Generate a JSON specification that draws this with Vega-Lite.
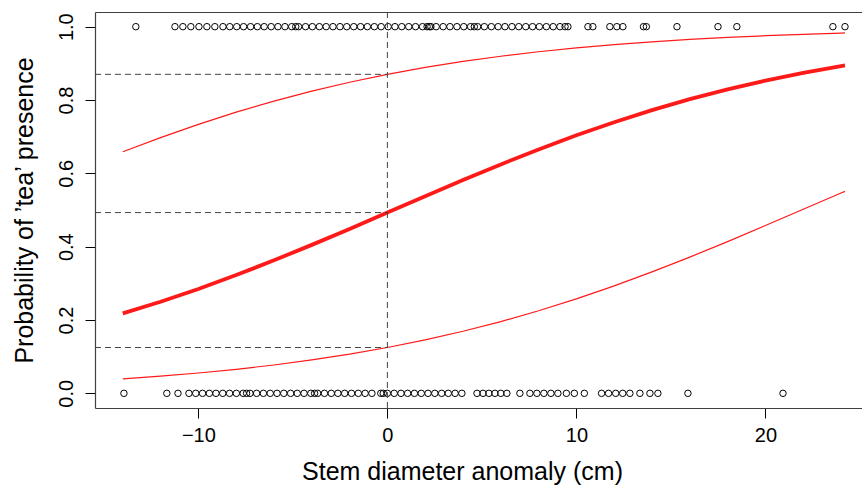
{
  "$schema": "https://vega.github.io/schema/vega-lite/v6.json",
  "width": 767,
  "height": 396,
  "autosize": {"type": "none"},
  "padding": {"left": 95, "top": 12, "right": 0, "bottom": 78},
  "background": "white",
  "config": {
    "view": {"stroke": null},
    "font": "Liberation Sans",
    "axis": {
      "grid": false,
      "domainColor": "#404040",
      "domainWidth": 1.2,
      "tickColor": "#000000",
      "tickWidth": 1,
      "tickSize": 10,
      "labelColor": "#000000",
      "titleColor": "#000000",
      "labelFont": "Liberation Sans",
      "titleFont": "Liberation Sans",
      "labelFontSize": 20,
      "titleFontSize": 25,
      "titleFontWeight": "normal",
      "labelFlush": false
    }
  },
  "datasets": {
    "pts": [
      {"x": -13.31, "y": 1}, {"x": -11.24, "y": 1}, {"x": -10.82, "y": 1}, {"x": -10.40, "y": 1}, {"x": -9.97, "y": 1}, {"x": -9.55, "y": 1}, {"x": -9.13, "y": 1},
      {"x": -8.70, "y": 1}, {"x": -8.34, "y": 1}, {"x": -7.97, "y": 1}, {"x": -7.61, "y": 1}, {"x": -7.24, "y": 1}, {"x": -6.88, "y": 1}, {"x": -6.52, "y": 1}, {"x": -6.15, "y": 1}, {"x": -5.79, "y": 1}, {"x": -5.42, "y": 1},
      {"x": -5.06, "y": 1}, {"x": -4.85, "y": 1}, {"x": -4.70, "y": 1}, {"x": -4.33, "y": 1}, {"x": -3.97, "y": 1}, {"x": -3.60, "y": 1}, {"x": -3.24, "y": 1}, {"x": -2.88, "y": 1}, {"x": -2.51, "y": 1}, {"x": -2.15, "y": 1}, {"x": -1.78, "y": 1},
      {"x": -1.42, "y": 1}, {"x": -1.06, "y": 1}, {"x": -0.69, "y": 1}, {"x": -0.33, "y": 1}, {"x": 0.04, "y": 1}, {"x": 0.40, "y": 1}, {"x": 0.76, "y": 1}, {"x": 1.13, "y": 1}, {"x": 1.49, "y": 1}, {"x": 1.86, "y": 1},
      {"x": 2.10, "y": 1}, {"x": 2.22, "y": 1}, {"x": 2.30, "y": 1}, {"x": 2.58, "y": 1}, {"x": 2.95, "y": 1}, {"x": 3.31, "y": 1}, {"x": 3.68, "y": 1}, {"x": 4.04, "y": 1}, {"x": 4.40, "y": 1}, {"x": 4.60, "y": 1}, {"x": 4.77, "y": 1},
      {"x": 5.13, "y": 1}, {"x": 5.50, "y": 1}, {"x": 5.86, "y": 1}, {"x": 6.22, "y": 1}, {"x": 6.59, "y": 1}, {"x": 6.95, "y": 1}, {"x": 7.32, "y": 1}, {"x": 7.68, "y": 1}, {"x": 8.04, "y": 1}, {"x": 8.41, "y": 1}, {"x": 8.77, "y": 1}, {"x": 9.13, "y": 1},
      {"x": 9.40, "y": 1}, {"x": 9.55, "y": 1}, {"x": 10.61, "y": 1}, {"x": 10.87, "y": 1}, {"x": 11.77, "y": 1}, {"x": 12.14, "y": 1}, {"x": 12.46, "y": 1}, {"x": 13.55, "y": 1}, {"x": 13.70, "y": 1}, {"x": 15.32, "y": 1}, {"x": 17.49, "y": 1}, {"x": 18.49, "y": 1}, {"x": 23.57, "y": 1}, {"x": 24.21, "y": 1},
      {"x": -13.94, "y": 0}, {"x": -11.67, "y": 0}, {"x": -11.08, "y": 0},
      {"x": -10.50, "y": 0}, {"x": -10.14, "y": 0}, {"x": -9.78, "y": 0}, {"x": -9.42, "y": 0}, {"x": -9.07, "y": 0}, {"x": -8.71, "y": 0}, {"x": -8.35, "y": 0}, {"x": -7.99, "y": 0}, {"x": -7.63, "y": 0}, {"x": -7.45, "y": 0}, {"x": -7.27, "y": 0},
      {"x": -6.92, "y": 0}, {"x": -6.56, "y": 0}, {"x": -6.20, "y": 0}, {"x": -5.84, "y": 0}, {"x": -5.48, "y": 0}, {"x": -5.12, "y": 0}, {"x": -4.77, "y": 0}, {"x": -4.41, "y": 0}, {"x": -4.05, "y": 0}, {"x": -3.85, "y": 0}, {"x": -3.69, "y": 0},
      {"x": -3.33, "y": 0}, {"x": -2.97, "y": 0}, {"x": -2.62, "y": 0}, {"x": -2.26, "y": 0}, {"x": -1.90, "y": 0}, {"x": -1.54, "y": 0}, {"x": -1.18, "y": 0}, {"x": -0.82, "y": 0}, {"x": -0.35, "y": 0}, {"x": -0.22, "y": 0},
      {"x": 0.00, "y": 0}, {"x": 0.36, "y": 0}, {"x": 0.72, "y": 0}, {"x": 1.07, "y": 0}, {"x": 1.43, "y": 0}, {"x": 1.79, "y": 0}, {"x": 2.15, "y": 0}, {"x": 2.51, "y": 0}, {"x": 2.87, "y": 0}, {"x": 3.22, "y": 0}, {"x": 3.58, "y": 0}, {"x": 3.94, "y": 0},
      {"x": 4.74, "y": 0}, {"x": 5.06, "y": 0}, {"x": 5.37, "y": 0}, {"x": 5.69, "y": 0}, {"x": 6.00, "y": 0}, {"x": 6.32, "y": 0}, {"x": 7.01, "y": 0},
      {"x": 7.54, "y": 0}, {"x": 7.91, "y": 0}, {"x": 8.28, "y": 0}, {"x": 8.65, "y": 0}, {"x": 9.02, "y": 0}, {"x": 9.47, "y": 0}, {"x": 9.89, "y": 0}, {"x": 10.42, "y": 0},
      {"x": 11.33, "y": 0}, {"x": 11.70, "y": 0}, {"x": 12.08, "y": 0}, {"x": 12.45, "y": 0}, {"x": 12.83, "y": 0}, {"x": 13.36, "y": 0}, {"x": 13.89, "y": 0}, {"x": 14.31, "y": 0}, {"x": 15.90, "y": 0}, {"x": 20.93, "y": 0}
    ],
    "fit": [
      {"x": -14, "fit": 0.2179, "lo": 0.0396, "hi": 0.6588},
      {"x": -12, "fit": 0.2498, "lo": 0.0469, "hi": 0.6975},
      {"x": -10, "fit": 0.2847, "lo": 0.0555, "hi": 0.7336},
      {"x": -8, "fit": 0.3225, "lo": 0.0656, "hi": 0.7669},
      {"x": -6, "fit": 0.3627, "lo": 0.0773, "hi": 0.7971},
      {"x": -4, "fit": 0.4049, "lo": 0.0910, "hi": 0.8243},
      {"x": -2, "fit": 0.4485, "lo": 0.1068, "hi": 0.8485},
      {"x": 0, "fit": 0.4930, "lo": 0.1250, "hi": 0.8700},
      {"x": 2, "fit": 0.5376, "lo": 0.1458, "hi": 0.8888},
      {"x": 4, "fit": 0.5816, "lo": 0.1693, "hi": 0.9052},
      {"x": 6, "fit": 0.6243, "lo": 0.1957, "hi": 0.9194},
      {"x": 8, "fit": 0.6652, "lo": 0.2252, "hi": 0.9316},
      {"x": 10, "fit": 0.7037, "lo": 0.2577, "hi": 0.9421},
      {"x": 12, "fit": 0.7395, "lo": 0.2931, "hi": 0.9510},
      {"x": 14, "fit": 0.7725, "lo": 0.3312, "hi": 0.9587},
      {"x": 16, "fit": 0.8023, "lo": 0.3716, "hi": 0.9652},
      {"x": 18, "fit": 0.8291, "lo": 0.4139, "hi": 0.9707},
      {"x": 20, "fit": 0.8529, "lo": 0.4577, "hi": 0.9753},
      {"x": 22, "fit": 0.8740, "lo": 0.5019, "hi": 0.9792},
      {"x": 24, "fit": 0.8924, "lo": 0.5462, "hi": 0.9826},
      {"x": 24.21, "fit": 0.8942, "lo": 0.5509, "hi": 0.9829}
    ],
    "hl": [
      {"x": -16, "x2": 0, "y": 0.870},
      {"x": -16, "x2": 0, "y": 0.493},
      {"x": -16, "x2": 0, "y": 0.125}
    ],
    "vl": [{"x": 0}]
  },
  "resolve": {"axis": {"x": "independent", "y": "independent"}},
  "layer": [
    {
      "data": {"name": "pts"},
      "mark": {"type": "point", "shape": "circle", "filled": false, "stroke": "#000000", "strokeWidth": 1, "size": 42, "opacity": 1},
      "encoding": {
        "x": {"field": "x", "type": "quantitative", "scale": {"domain": [-15.47, 25.11], "nice": false, "zero": false},
          "axis": {"orient": "bottom", "values": [-10, 0, 10, 20], "title": "Stem diameter anomaly (cm)", "labelPadding": 7, "titlePadding": 14, "titleX": 367}},
        "y": {"field": "y", "type": "quantitative", "scale": {"domain": [-0.04, 1.04], "nice": false, "zero": false},
          "axis": {"orient": "left", "values": [0, 0.2, 0.4, 0.6, 0.8, 1], "format": ".1f", "labelAngle": -90, "labelAlign": "center", "labelBaseline": "alphabetic", "labelPadding": 13, "title": "Probability of ’tea’ presence", "titlePadding": 19}}
      }
    },
    {
      "data": {"name": "fit"},
      "mark": {"type": "line", "color": "#ff1a1a", "strokeWidth": 1.2},
      "encoding": {
        "x": {"field": "x", "type": "quantitative", "axis": null},
        "y": {"field": "hi", "type": "quantitative", "axis": null}
      }
    },
    {
      "data": {"name": "fit"},
      "mark": {"type": "line", "color": "#ff1a1a", "strokeWidth": 1.2},
      "encoding": {
        "x": {"field": "x", "type": "quantitative", "axis": null},
        "y": {"field": "lo", "type": "quantitative", "axis": null}
      }
    },
    {
      "data": {"name": "fit"},
      "mark": {"type": "line", "color": "#ff1a1a", "strokeWidth": 3.8},
      "encoding": {
        "x": {"field": "x", "type": "quantitative", "axis": null},
        "y": {"field": "fit", "type": "quantitative", "axis": null}
      }
    },
    {
      "data": {"name": "hl"},
      "mark": {"type": "rule", "color": "#444444", "strokeWidth": 1, "strokeDash": [6, 4], "clip": true},
      "encoding": {
        "x": {"field": "x", "type": "quantitative", "axis": null},
        "x2": {"field": "x2"},
        "y": {"field": "y", "type": "quantitative", "axis": null}
      }
    },
    {
      "data": {"name": "vl"},
      "mark": {"type": "rule", "color": "#444444", "strokeWidth": 1, "strokeDash": [6, 4]},
      "encoding": {
        "x": {"field": "x", "type": "quantitative",
          "axis": {"orient": "top", "labels": false, "ticks": false, "title": null, "domain": true}}
      }
    }
  ]
}
